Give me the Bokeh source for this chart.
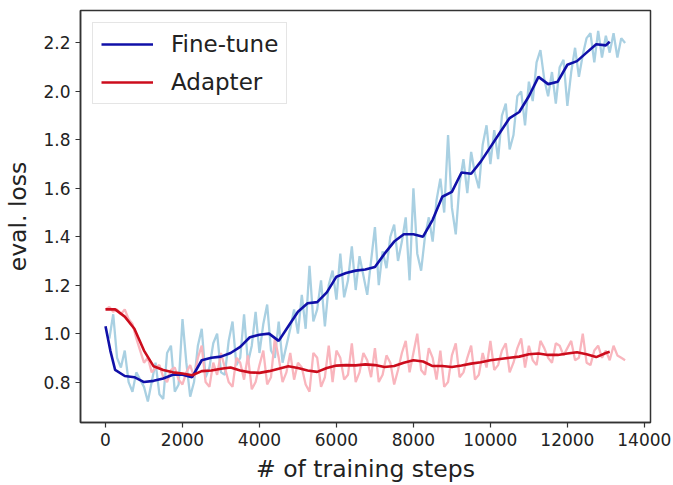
from bokeh.plotting import figure
from bokeh.models import Range1d, Legend, LegendItem, FixedTicker
from bokeh.embed import file_html
from bokeh.resources import INLINE

# ---------------- data ----------------
raw_steps = list(range(100, 13600, 100))
finetune_raw = [
    0.98, 1.08, 0.90, 0.86, 0.93, 0.80, 0.76, 0.84, 0.81, 0.78,
    0.72, 0.80, 0.88, 0.75, 0.73, 0.92, 0.95, 0.76, 0.79, 1.06,
    0.88, 0.74, 0.80, 0.95, 1.02, 0.82, 0.86, 0.96, 1.00, 0.84,
    0.83, 0.97, 1.05, 0.87, 0.90, 1.08, 0.88, 0.95, 1.09, 0.92,
    1.04, 1.12, 0.93, 0.90, 1.05, 0.88, 0.95, 1.02, 1.10, 1.00,
    1.16, 1.02, 1.28, 1.05, 1.10, 1.22, 1.03, 1.20, 1.26, 1.14,
    1.33, 1.15, 1.22, 1.36, 1.18, 1.32, 1.24, 1.16, 1.30, 1.44,
    1.20, 1.34, 1.27, 1.40, 1.45, 1.30, 1.38, 1.48, 1.22, 1.60,
    1.33, 1.26, 1.40, 1.48, 1.38, 1.55, 1.64, 1.50, 1.82, 1.52,
    1.41, 1.62, 1.72, 1.58, 1.75, 1.66, 1.60, 1.78, 1.86, 1.70,
    1.84, 1.72, 1.90, 1.95, 1.76, 1.82, 1.98, 2.00, 1.86, 2.04,
    1.96, 2.12, 2.17, 2.05, 1.98, 2.08, 1.95, 2.10, 2.13, 1.94,
    2.08, 2.18, 2.06, 2.15, 2.22, 2.24, 2.12, 2.25, 2.14, 2.23,
    2.16, 2.24, 2.14, 2.22, 2.20,
]
adapter_raw_steps = list(range(0, 13600, 100))
adapter_raw = [
    1.10, 1.11, 1.09, 1.10, 1.08, 1.10, 1.06, 1.04, 0.98, 0.93,
    0.88, 0.90, 0.84, 0.86, 0.87, 0.82, 0.80, 0.85, 0.86, 0.81,
    0.79, 0.84, 0.87, 0.82, 0.90, 0.95, 0.80, 0.78, 0.88, 0.83,
    0.92, 0.86, 0.80, 0.78, 0.90, 0.88, 0.81, 0.91, 0.77, 0.80,
    0.87, 0.93, 0.79, 0.82, 0.98, 0.90, 0.80, 0.84, 0.92, 0.81,
    0.88, 0.86, 0.79, 0.76, 0.92, 0.90, 0.78, 0.82, 0.95, 0.80,
    0.93, 0.90, 0.81, 0.83, 0.96, 0.80, 0.84, 0.92, 0.89, 0.82,
    0.94, 0.80, 0.83, 0.91, 0.88, 0.79, 0.85, 0.92, 0.97, 0.84,
    0.92, 1.00, 0.85, 0.83, 0.94, 0.90, 0.81, 0.93, 0.78, 0.80,
    0.91, 0.96, 0.82, 0.84, 0.90, 0.95, 0.81, 0.83, 0.92, 0.86,
    0.97, 0.85, 0.87, 0.93, 0.96, 0.84, 0.88, 0.94, 0.98, 0.86,
    0.95, 0.89, 0.87, 0.97, 0.94, 0.90, 0.88, 0.96, 0.95, 0.91,
    0.94, 0.97, 0.89, 0.90, 1.00, 0.88, 0.87, 0.93, 0.95, 0.90,
    0.93, 0.89, 0.95, 0.91, 0.90, 0.89,
]

finetune_smooth_steps = [0, 125, 250] + list(range(500, 13250, 250)) + [13100]
finetune_smooth = [
    1.03, 0.93, 0.85,
    0.825, 0.82, 0.80, 0.805, 0.815, 0.83, 0.83, 0.82, 0.89, 0.90,
    0.905, 0.92, 0.945, 0.985, 0.995, 1.00, 0.97, 1.03, 1.09, 1.125,
    1.13, 1.17, 1.235, 1.25, 1.26, 1.265, 1.275, 1.33, 1.38, 1.41,
    1.41, 1.40, 1.47, 1.565, 1.585, 1.665, 1.66, 1.71, 1.77, 1.83,
    1.89, 1.915, 1.98, 2.06, 2.03, 2.04, 2.11, 2.125, 2.16, 2.195,
    2.19,
    2.205,
]
adapter_smooth_steps = list(range(0, 13250, 250)) + [13100]
adapter_smooth = [
    1.10, 1.10, 1.07, 1.02, 0.93, 0.865, 0.85, 0.84, 0.835, 0.828,
    0.845, 0.848, 0.855, 0.86, 0.848, 0.84, 0.838, 0.845, 0.855, 0.865,
    0.858, 0.848, 0.842, 0.858, 0.868, 0.87, 0.869, 0.873, 0.87, 0.862,
    0.866, 0.88, 0.89, 0.885, 0.866, 0.866, 0.862, 0.868, 0.876, 0.882,
    0.89, 0.895, 0.90, 0.905, 0.915, 0.918, 0.912, 0.912, 0.918, 0.923,
    0.915, 0.903, 0.92,
    0.925,
]

x_ticks = [0, 2000, 4000, 6000, 8000, 10000, 12000, 14000]
x_tick_labels = ["0", "2000", "4000", "6000", "8000", "10000", "12000", "14000"]
y_ticks = [0.8, 1.0, 1.2, 1.4, 1.6, 1.8, 2.0, 2.2]
y_tick_labels = ["0.8", "1.0", "1.2", "1.4", "1.6", "1.8", "2.0", "2.2"]

FONT = "DejaVu Sans"
AX = "#333333"

p = figure(width=673, height=485, output_backend="svg", toolbar_location=None,
           x_range=Range1d(-650, 14160), y_range=Range1d(0.633, 2.334),
           min_border_left=80, min_border_right=23, min_border_top=10,
           min_border_bottom=63)
p.grid.visible = False
p.outline_line_color = AX
p.outline_line_width = 1.5
p.background_fill_color = "white"
p.border_fill_color = "white"

p.line(raw_steps, finetune_raw, line_color="#a9d0e2", line_width=2.3)
p.line(adapter_raw_steps, adapter_raw, line_color="#f9b5bd", line_width=2.3)
r_ft = p.line(finetune_smooth_steps, finetune_smooth, line_color="#1010a8", line_width=2.6)
r_ad = p.line(adapter_smooth_steps, adapter_smooth, line_color="#cc0c1c", line_width=2.6)

p.xaxis.ticker = FixedTicker(ticks=x_ticks)
p.yaxis.ticker = FixedTicker(ticks=y_ticks)
p.xaxis.major_label_overrides = dict(zip(x_ticks, x_tick_labels))
p.yaxis.major_label_overrides = dict(zip(y_ticks, y_tick_labels))

for ax in (p.xaxis[0], p.yaxis[0]):
    ax.axis_line_color = AX
    ax.axis_line_width = 1.5
    ax.major_tick_line_color = AX
    ax.major_tick_line_width = 1.2
    ax.major_tick_in = 0
    ax.major_tick_out = 5
    ax.minor_tick_line_color = None
    ax.major_label_text_font = FONT
    ax.major_label_text_font_size = "17px"
    ax.major_label_text_color = "#222222"
    ax.axis_label_text_font = FONT
    ax.axis_label_text_font_size = "23.5px"
    ax.axis_label_text_font_style = "normal"
    ax.axis_label_text_color = "#222222"

p.xaxis.axis_label = "# of training steps"
p.yaxis.axis_label = "eval. loss"
p.xaxis.major_label_standoff = 5
p.xaxis.axis_label_standoff = 6
p.yaxis.major_label_standoff = 5
p.yaxis.axis_label_standoff = 8

legend = Legend(items=[LegendItem(label="Fine-tune", renderers=[r_ft]),
                       LegendItem(label="Adapter", renderers=[r_ad])],
                location="top_left")
legend.margin = 12
legend.padding = 8
legend.spacing = 12
legend.glyph_width = 52
legend.label_standoff = 18
legend.label_text_font = FONT
legend.label_text_font_size = "23px"
legend.label_text_color = "#222222"
legend.border_line_color = "#cccccc"
legend.border_line_width = 1
legend.background_fill_alpha = 0.85
p.add_layout(legend)

open("out.html", "w").write(file_html(p, INLINE))
